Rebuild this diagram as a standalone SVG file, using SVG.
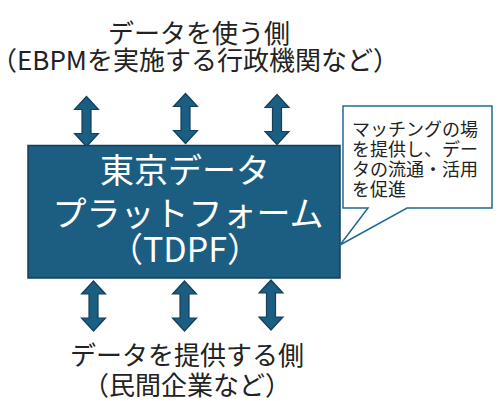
<svg xmlns="http://www.w3.org/2000/svg" xmlns:xlink="http://www.w3.org/1999/xlink" width="500" height="401" viewBox="0 0 500 401">
<style>
.t{font-family:"Noto Sans CJK JP","Noto Sans",sans-serif;fill:#222;}
.lbl{font-size:26px;text-anchor:middle;}
.main{font-size:34px;text-anchor:middle;fill:#fff;}
.note{font-size:18px;}
.arr{fill:#1b5e82;stroke:#143f58;stroke-width:1.2;stroke-linejoin:miter;}
</style>
<defs>
<path id="dbl" d="M0,0 L12,13 L4.5,13 L4.5,37 L12,37 L0,50 L-12,37 L-4.5,37 L-4.5,13 L-12,13 Z"/>
</defs>
<rect width="500" height="401" fill="#fff"/>
<g id="users">
<text class="t lbl" x="199" y="43">データを使う側</text>
<text class="t lbl" x="195" y="70">（EBPMを実施する行政機関など）</text>
</g>
<g id="connectors" class="arr">
<use xlink:href="#dbl" x="86.5" y="96.5"/>
<use xlink:href="#dbl" x="185.5" y="93.5"/>
<use xlink:href="#dbl" x="277" y="94.5"/>
<use xlink:href="#dbl" x="93.5" y="281"/>
<use xlink:href="#dbl" x="184.5" y="281"/>
<use xlink:href="#dbl" x="271" y="280"/>
</g>
<g id="tdpf">
<rect x="28" y="145.5" width="312" height="132.5" fill="#1b5e82" stroke="#143f58" stroke-width="1.5"/>
<text class="t main" x="185" y="183">東京データ</text>
<text class="t main" x="188" y="226">プラットフォーム</text>
<text class="t main" x="185" y="262">（TDPF）</text>
</g>
<g id="callout">
<path d="M343,106 H492 V208 H407 L340,245 L368,208 H343 Z" fill="#fff" stroke="#23698f" stroke-width="1.5"/>
<text class="t note" x="352" y="136">マッチングの場</text>
<text class="t note" x="352" y="156">を提供し、デー</text>
<text class="t note" x="352" y="176">タの流通・活用</text>
<text class="t note" x="352" y="196">を促進</text>
</g>
<g id="providers">
<text class="t lbl" x="187" y="365">データを提供する側</text>
<text class="t lbl" x="187" y="395">（民間企業など）</text>
</g>
</svg>
